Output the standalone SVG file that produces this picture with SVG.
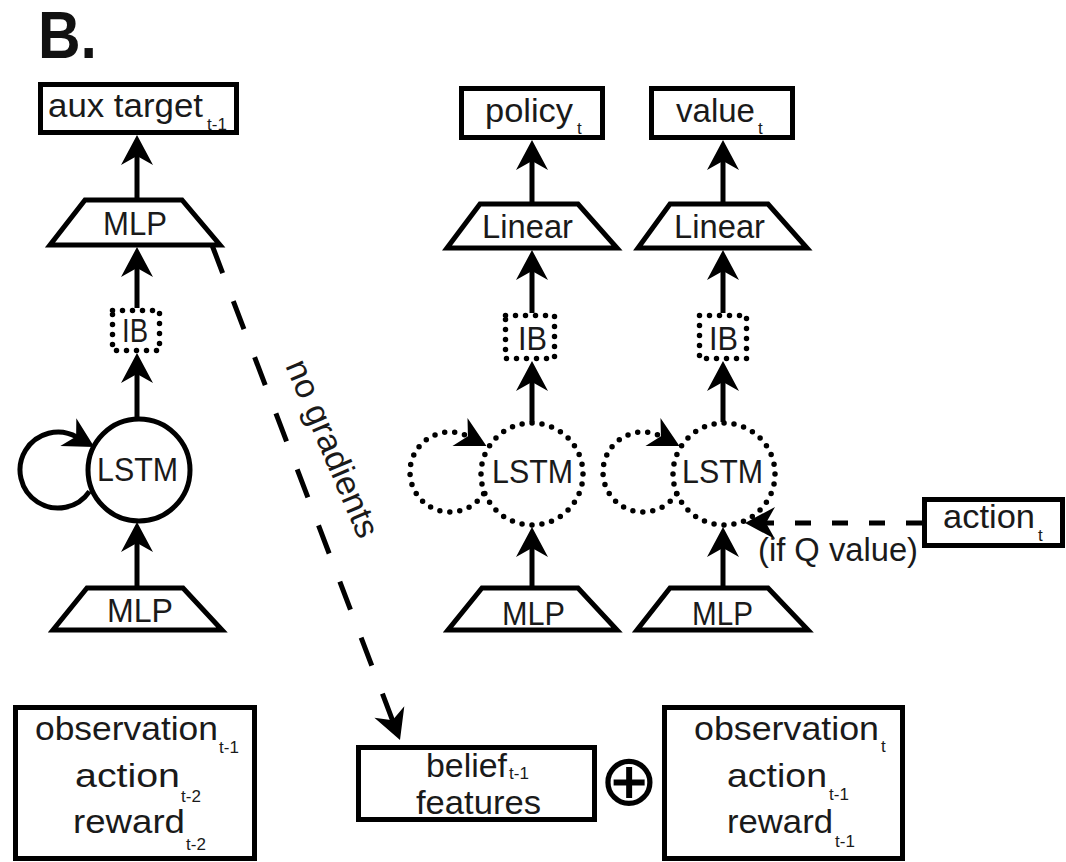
<svg xmlns="http://www.w3.org/2000/svg" width="1066" height="862" viewBox="0 0 1066 862">
<style>
.bx{fill:#fff;stroke:#000;stroke-width:5}
.tr{fill:#fff;stroke:#000;stroke-width:5;stroke-linejoin:miter}
.dt{fill:none;stroke:#000;stroke-width:5.5;stroke-dasharray:0 10;stroke-linecap:round}
.sc{fill:none;stroke:#000;stroke-width:5}
.ar{fill:none;stroke:#000;stroke-width:5}
.da{stroke-dasharray:16 21}
.dg{stroke-dasharray:30 30}
.t{font-family:"Liberation Sans",Arial,sans-serif;font-size:34px;fill:#1a1a1a}
.s{font-family:"Liberation Sans",Arial,sans-serif;font-size:17px;fill:#1a1a1a}
</style>
<defs>
<marker id="ah" markerUnits="userSpaceOnUse" markerWidth="36" markerHeight="36" viewBox="-14 -18 36 36" refX="0" refY="0" orient="auto">
<path d="M20,0 L-10,-16 L-1,0 L-10,16 Z" fill="#000"/>
</marker>
</defs>
<rect width="1066" height="862" fill="#fff"/>
<text x="38" y="58" font-family="Liberation Sans,Arial,sans-serif" font-weight="bold" font-size="66" textLength="59" lengthAdjust="spacingAndGlyphs" fill="#111">B.</text>

<g id="aux-target">
<rect class="bx" x="40.5" y="84.5" width="196" height="48"/>
<text class="t" x="48" y="117" textLength="155" lengthAdjust="spacingAndGlyphs">aux target</text>
<text class="s" x="207" y="130">t-1</text>
</g>
<g id="mlp-aux">
<polygon class="tr" points="85,200 182,200 220,245 50,245"/>
<text class="t" x="103" y="235" textLength="64" lengthAdjust="spacingAndGlyphs">MLP</text>
</g>
<g id="ib-left">
<rect class="dt" x="112.5" y="310.5" width="47" height="40"/>
<text class="t" x="122" y="342" textLength="26" lengthAdjust="spacingAndGlyphs">IB</text>
</g>
<g id="lstm-left">
<circle class="sc" cx="139" cy="470" r="51"/>
<text class="t" x="97" y="481" textLength="81" lengthAdjust="spacingAndGlyphs">LSTM</text>
</g>
<g id="mlp-left">
<polygon class="tr" points="87,588 183,588 222,630 53,630"/>
<text class="t" x="107" y="622" textLength="66" lengthAdjust="spacingAndGlyphs">MLP</text>
</g>

<g id="policy">
<rect class="bx" x="461.5" y="88.5" width="141" height="49"/>
<text class="t" x="485" y="122" textLength="88" lengthAdjust="spacingAndGlyphs">policy</text>
<text class="s" x="577" y="134">t</text>
</g>
<g id="linear-policy">
<polygon class="tr" points="480,204 578,204 617,248 447,248"/>
<text class="t" x="482" y="238" textLength="91" lengthAdjust="spacingAndGlyphs">Linear</text>
</g>
<g id="ib-policy">
<rect class="dt" x="505.5" y="315.5" width="49" height="43"/>
<text class="t" x="518" y="350" textLength="29" lengthAdjust="spacingAndGlyphs">IB</text>
</g>
<g id="lstm-policy">
<circle class="dt" cx="532" cy="474" r="51"/>
<text class="t" x="492" y="483" textLength="81" lengthAdjust="spacingAndGlyphs">LSTM</text>
</g>
<g id="mlp-policy">
<polygon class="tr" points="482,588 578,588 617,630 448,630"/>
<text class="t" x="502" y="625" textLength="63" lengthAdjust="spacingAndGlyphs">MLP</text>
</g>

<g id="value">
<rect class="bx" x="651.5" y="88.5" width="141" height="49"/>
<text class="t" x="676" y="122" textLength="79" lengthAdjust="spacingAndGlyphs">value</text>
<text class="s" x="758" y="134">t</text>
</g>
<g id="linear-value">
<polygon class="tr" points="670,204 768,204 807,248 638,248"/>
<text class="t" x="674" y="238" textLength="91" lengthAdjust="spacingAndGlyphs">Linear</text>
</g>
<g id="ib-value">
<rect class="dt" x="699.5" y="315.5" width="47" height="43"/>
<text class="t" x="709" y="350" textLength="29" lengthAdjust="spacingAndGlyphs">IB</text>
</g>
<g id="lstm-value">
<circle class="dt" cx="724" cy="474" r="51"/>
<text class="t" x="682" y="483" textLength="81" lengthAdjust="spacingAndGlyphs">LSTM</text>
</g>
<g id="mlp-value">
<polygon class="tr" points="670,588 768,588 808,630 637,630"/>
<text class="t" x="692" y="625" textLength="61" lengthAdjust="spacingAndGlyphs">MLP</text>
</g>

<g id="action">
<rect class="bx" x="924.5" y="499.5" width="138" height="46"/>
<text class="t" x="943" y="528" textLength="92" lengthAdjust="spacingAndGlyphs">action</text>
<text class="s" x="1038" y="541">t</text>
</g>

<g id="inputs-prev">
<rect class="bx" x="15.5" y="707.5" width="239" height="151"/>
<text class="t" x="35" y="740" textLength="183" lengthAdjust="spacingAndGlyphs">observation</text>
<text class="s" x="219" y="753">t-1</text>
<text class="t" x="75" y="787" textLength="105" lengthAdjust="spacingAndGlyphs">action</text>
<text class="s" x="181" y="802">t-2</text>
<text class="t" x="73" y="833" textLength="112" lengthAdjust="spacingAndGlyphs">reward</text>
<text class="s" x="186" y="850">t-2</text>
</g>
<g id="belief">
<rect class="bx" x="358.5" y="747.5" width="236" height="72"/>
<text class="t" x="426" y="777" textLength="81" lengthAdjust="spacingAndGlyphs">belief</text>
<text class="s" x="509" y="779" font-size="16">t-1</text>
<text class="t" x="416" y="814" textLength="125" lengthAdjust="spacingAndGlyphs">features</text>
</g>
<g id="concat">
<text x="629" y="805" text-anchor="middle" font-family="DejaVu Sans,sans-serif" font-size="72" fill="#000">⊕</text>
</g>
<g id="inputs-now">
<rect class="bx" x="664.5" y="707.5" width="238" height="151"/>
<text class="t" x="694" y="740" textLength="185" lengthAdjust="spacingAndGlyphs">observation</text>
<text class="s" x="881" y="752">t</text>
<text class="t" x="727" y="787" textLength="100" lengthAdjust="spacingAndGlyphs">action</text>
<text class="s" x="829" y="800">t-1</text>
<text class="t" x="727" y="833" textLength="106" lengthAdjust="spacingAndGlyphs">reward</text>
<text class="s" x="835" y="847">t-1</text>
</g>

<g id="connectors">
<line class="ar" x1="137" y1="588" x2="137" y2="542" marker-end="url(#ah)"/>
<line class="ar" x1="137" y1="418" x2="137" y2="373" marker-end="url(#ah)"/>
<line class="ar" x1="137" y1="308" x2="137" y2="267" marker-end="url(#ah)"/>
<line class="ar" x1="137" y1="199" x2="137" y2="155" marker-end="url(#ah)"/>
<path class="ar" d="M89.5,491.3 A38,38 0 1 1 77,437.1" marker-end="url(#ah)"/>

<line class="ar" x1="532" y1="588" x2="532" y2="547" marker-end="url(#ah)"/>
<line class="ar" x1="532" y1="422" x2="532" y2="381" marker-end="url(#ah)"/>
<line class="ar" x1="532" y1="313" x2="532" y2="270" marker-end="url(#ah)"/>
<line class="ar" x1="532" y1="203" x2="532" y2="160" marker-end="url(#ah)"/>
<path class="dt" d="M483.6,493.7 A40,40 0 1 1 468.8,436.7" marker-end="url(#ah)"/>

<line class="ar" x1="723" y1="588" x2="723" y2="547" marker-end="url(#ah)"/>
<line class="ar" x1="723" y1="422" x2="723" y2="381" marker-end="url(#ah)"/>
<line class="ar" x1="723" y1="313" x2="723" y2="270" marker-end="url(#ah)"/>
<line class="ar" x1="723" y1="203" x2="723" y2="160" marker-end="url(#ah)"/>
<path class="dt" d="M676.6,493.7 A40,40 0 1 1 661.8,436.7" marker-end="url(#ah)"/>

<line class="ar da" x1="922" y1="523" x2="765" y2="523" marker-end="url(#ah)"/>
<text class="t" x="758" y="561" textLength="160" lengthAdjust="spacingAndGlyphs">(if Q value)</text>

<line class="ar dg" x1="212" y1="245" x2="392.9" y2="721.3" marker-end="url(#ah)"/>
<text class="t" transform="translate(322,453) rotate(67)" text-anchor="middle" textLength="190" lengthAdjust="spacingAndGlyphs">no gradients</text>
</g>
</svg>
